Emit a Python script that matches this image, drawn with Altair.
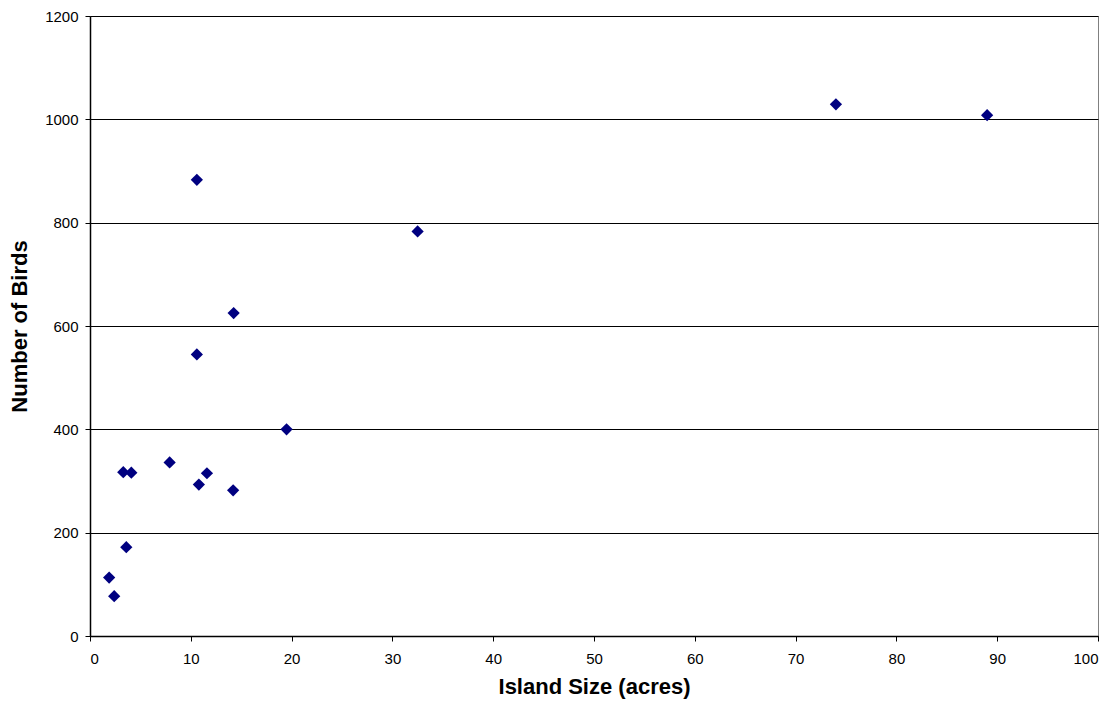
import altair as alt
import pandas as pd

island_size = [10.6, 32.5, 14.25, 10.6, 19.5, 3.3, 4.1, 7.9, 10.8, 11.6, 14.2, 3.6, 1.9, 2.4, 74.0, 89.0]
num_birds = [883, 783, 625, 545, 400, 317, 316, 336, 293, 315, 282, 172, 113, 77, 1029, 1008]

df = pd.DataFrame({"size": island_size, "birds": num_birds})

FONT = "Liberation Sans"

chart = alt.Chart(df).mark_point(
    shape="diamond", filled=True, size=150, color="#000080", opacity=1, strokeWidth=0
).encode(
    x=alt.X("size:Q", title="Island Size (acres)",
            scale=alt.Scale(domain=[0, 100], nice=False),
            axis=alt.Axis(values=list(range(0, 101, 10)), grid=False, format="d",
                          tickSize=5, labelPadding=10, titlePadding=10)),
    y=alt.Y("birds:Q", title="Number of Birds",
            scale=alt.Scale(domain=[0, 1200], nice=False),
            axis=alt.Axis(values=list(range(0, 1201, 200)), grid=True, format="d",
                          tickSize=5, labelPadding=7, titlePadding=13)),
).properties(
    width=1008, height=620,
    autosize=alt.AutoSizeParams(type="none"),
    padding={"left": 82, "top": 8, "right": 5, "bottom": 66},
).configure_view(
    stroke="#808080", strokeWidth=1
).configure_axis(
    labelFont=FONT, titleFont=FONT, labelFontSize=15, titleFontSize=22,
    titleFontWeight="bold", labelColor="black", titleColor="black",
    domainColor="black", domainWidth=1.5, tickColor="black", tickWidth=1,
    gridColor="black", gridWidth=1, gridOpacity=1,
)

chart.save("out.html", embed_options={"renderer": "svg", "actions": False})
